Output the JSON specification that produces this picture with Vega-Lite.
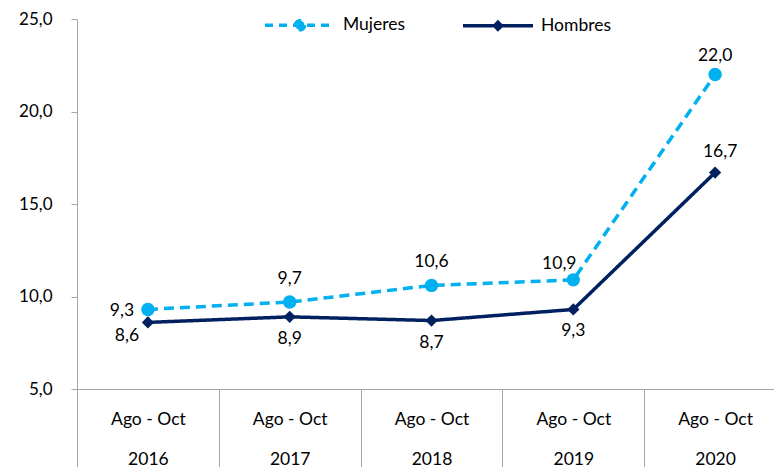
{
  "$schema": "https://vega.github.io/schema/vega-lite/v6.json",
  "width": 697,
  "height": 370,
  "autosize": {"type": "none"},
  "padding": {"left": 77, "top": 19, "right": 0, "bottom": 78},
  "background": "white",
  "data": {
    "values": [
      {"year": "2016", "series": "Mujeres", "value": 9.3},
      {"year": "2017", "series": "Mujeres", "value": 9.7},
      {"year": "2018", "series": "Mujeres", "value": 10.6},
      {"year": "2019", "series": "Mujeres", "value": 10.9},
      {"year": "2020", "series": "Mujeres", "value": 22.0},
      {"year": "2016", "series": "Hombres", "value": 8.6},
      {"year": "2017", "series": "Hombres", "value": 8.9},
      {"year": "2018", "series": "Hombres", "value": 8.7},
      {"year": "2019", "series": "Hombres", "value": 9.3},
      {"year": "2020", "series": "Hombres", "value": 16.7}
    ]
  },
  "encoding": {
    "x": {
      "field": "year",
      "type": "nominal",
      "sort": ["2016", "2017", "2018", "2019", "2020"],
      "scale": {"range": [0, 709], "paddingInner": 0, "paddingOuter": 0},
      "axis": {
        "title": null,
        "domainColor": "#A6A6A6",
        "tickColor": "#A6A6A6",
        "tickSize": 78,
        "tickBand": "extent",
        "labelAngle": 0,
        "labelExpr": "datum.label ? ['Ago - Oct', datum.label] : ''",
        "labelLineHeight": 40,
        "labelBaseline": "top",
        "labelPadding": -57,
        "labelFont": "Lato",
        "labelFontSize": 17.5,
        "labelColor": "#000000"
      }
    },
    "y": {
      "field": "value",
      "type": "quantitative",
      "scale": {"domain": [5, 25], "nice": false, "zero": false},
      "axis": {
        "title": null,
        "values": [5, 10, 15, 20, 25],
        "grid": false,
        "tickSize": 6,
        "labelPadding": 19,
        "domainColor": "#A6A6A6",
        "tickColor": "#A6A6A6",
        "labelFont": "Lato",
        "labelFontSize": 17,
        "labelColor": "#000000",
        "format": ".1f"
      }
    },
    "color": {
      "field": "series",
      "type": "nominal",
      "scale": {"domain": ["Mujeres", "Hombres"], "range": ["#00B0F0", "#002060"]},
      "legend": {
        "orient": "none",
        "legendX": 186,
        "legendY": -31,
        "direction": "horizontal",
        "title": null,
        "labelFont": "Lato",
        "labelFontSize": 17.5,
        "labelColor": "#000000",
        "symbolSize": 4900,
        "symbolStrokeWidth": 3.5,
        "columnPadding": 50,
        "labelOffset": 6,
        "encode": {
          "symbols": {
            "update": {
              "shape": {"signal": "datum.value === 'Mujeres' ? 'M-1,0H1M0.13,0A0.13,0.13,0,1,1,-0.13,0A0.13,0.13,0,1,1,0.13,0Z' : 'M-1,0H1M0,-0.1L0.1,0L0,0.1L-0.1,0Z'"},
              "strokeDash": {"signal": "datum.value === 'Mujeres' ? [8, 6] : [1, 0]"},
              "fill": {"signal": "datum.value === 'Mujeres' ? '#00B0F0' : '#002060'"},
              "stroke": {"signal": "datum.value === 'Mujeres' ? '#00B0F0' : '#002060'"},
              "opacity": {"value": 1},
              "fillOpacity": {"value": 1}
            }
          }
        }
      }
    }
  },
  "layer": [
    {
      "mark": {"type": "line", "strokeWidth": 3.5},
      "encoding": {
        "strokeDash": {
          "condition": {"test": "datum.series === 'Mujeres'", "value": [10, 6]},
          "value": [1, 0]
        }
      }
    },
    {
      "mark": {"type": "point", "filled": true, "opacity": 1},
      "encoding": {
        "shape": {"condition": {"test": "datum.series === 'Mujeres'", "value": "circle"}, "value": "diamond"},
        "size": {"condition": {"test": "datum.series === 'Mujeres'", "value": 180}, "value": 150}
      }
    },
    {
      "transform": [{"filter": "datum.series === 'Mujeres' && indexof(['2017','2018'], datum.year) >= 0"}],
      "mark": {"type": "text", "font": "Lato", "fontSize": 17.5, "baseline": "middle", "align": "center", "dy": -23, "color": "#000000"},
      "encoding": {"text": {"field": "value", "type": "quantitative", "format": ".1f"}, "color": {"value": "#000000"}}
    },
    {
      "transform": [{"filter": "datum.series === 'Mujeres' && datum.year === '2020'"}],
      "mark": {"type": "text", "font": "Lato", "fontSize": 17.5, "baseline": "middle", "align": "center", "dy": -19, "color": "#000000"},
      "encoding": {"text": {"field": "value", "type": "quantitative", "format": ".1f"}, "color": {"value": "#000000"}}
    },
    {
      "transform": [{"filter": "datum.series === 'Hombres' && indexof(['2017','2018','2019'], datum.year) >= 0"}],
      "mark": {"type": "text", "font": "Lato", "fontSize": 17.5, "baseline": "middle", "align": "center", "dy": 22, "color": "#000000"},
      "encoding": {"text": {"field": "value", "type": "quantitative", "format": ".1f"}, "color": {"value": "#000000"}}
    },
    {
      "transform": [{"filter": "datum.series === 'Mujeres' && datum.year === '2016'"}],
      "mark": {"type": "text", "font": "Lato", "fontSize": 17.5, "baseline": "middle", "align": "center", "dx": -26, "dy": 2, "color": "#000000"},
      "encoding": {"text": {"field": "value", "type": "quantitative", "format": ".1f"}, "color": {"value": "#000000"}}
    },
    {
      "transform": [{"filter": "datum.series === 'Hombres' && datum.year === '2016'"}],
      "mark": {"type": "text", "font": "Lato", "fontSize": 17.5, "baseline": "middle", "align": "center", "dx": -21, "dy": 14, "color": "#000000"},
      "encoding": {"text": {"field": "value", "type": "quantitative", "format": ".1f"}, "color": {"value": "#000000"}}
    },
    {
      "transform": [{"filter": "datum.series === 'Mujeres' && datum.year === '2019'"}],
      "mark": {"type": "text", "font": "Lato", "fontSize": 17.5, "baseline": "middle", "align": "center", "dx": -14, "dy": -16, "color": "#000000"},
      "encoding": {"text": {"field": "value", "type": "quantitative", "format": ".1f"}, "color": {"value": "#000000"}}
    },
    {
      "transform": [{"filter": "datum.series === 'Hombres' && datum.year === '2020'"}],
      "mark": {"type": "text", "font": "Lato", "fontSize": 17.5, "baseline": "middle", "align": "center", "dx": 5, "dy": -21, "color": "#000000"},
      "encoding": {"text": {"field": "value", "type": "quantitative", "format": ".1f"}, "color": {"value": "#000000"}}
    }
  ],
  "config": {
    "view": {"stroke": null},
    "locale": {
      "number": {"decimal": ",", "thousands": ".", "grouping": [3], "currency": ["", " €"]}
    }
  }
}
